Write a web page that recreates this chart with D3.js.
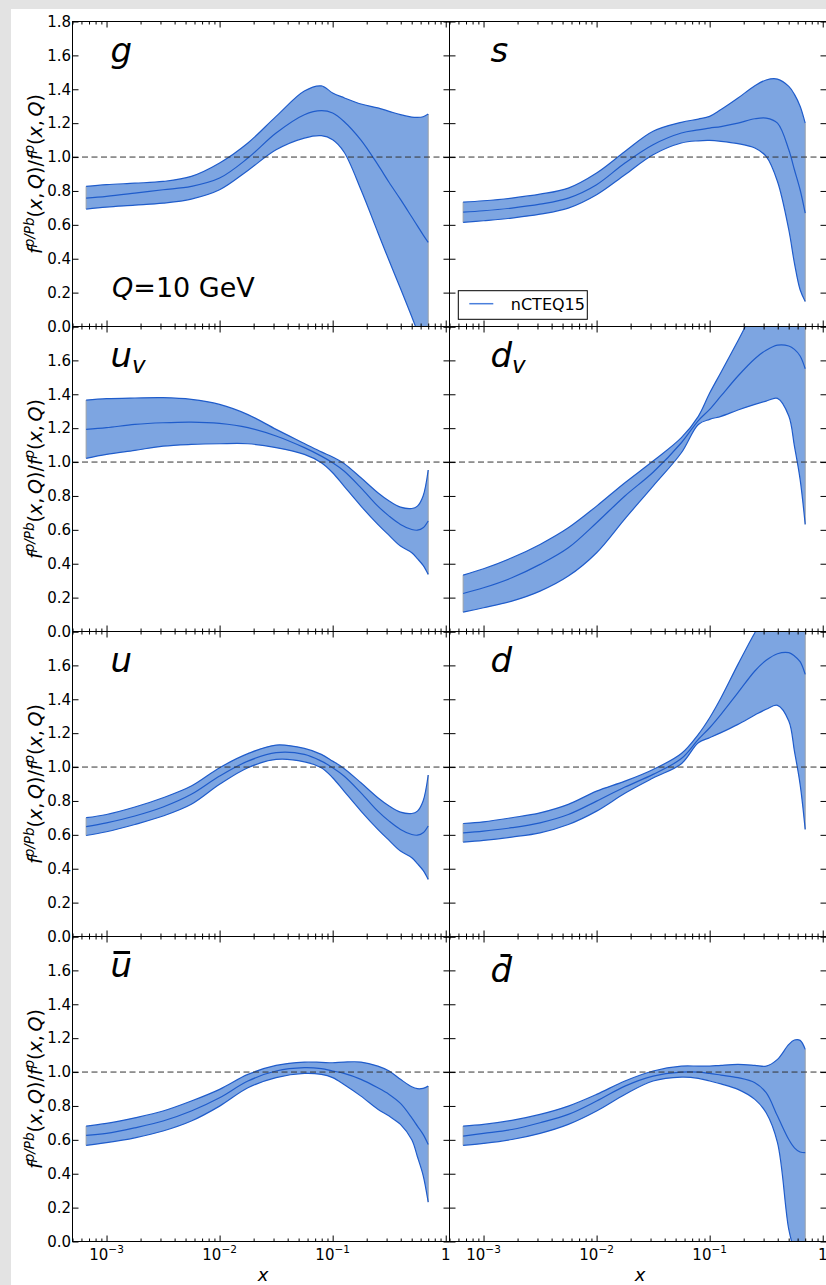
<!DOCTYPE html>
<html>
<head>
<meta charset="utf-8">
<script src="https://cdn.jsdelivr.net/npm/d3@7"></script>
<style>
  body { margin: 0; background: #e3e3e3; }
  svg { display: block; }
  text { font-family: "DejaVu Sans", sans-serif; }
</style>
</head>
<body>
<svg id="chart" width="826" height="1285"></svg>
<script>
const xGrid = [6.6e-4, 1e-3, 1.78e-3, 3.16e-3, 5.62e-3, 1e-2, 1.78e-2, 3.16e-2, 5.62e-2, 7.94e-2,
               0.1, 0.126, 0.178, 0.251, 0.316, 0.398, 0.501, 0.562, 0.631, 0.70];

// g
const gHi  = [0.827, 0.837, 0.846, 0.856, 0.886, 0.965, 1.083, 1.24, 1.39, 1.42, 1.378, 1.35, 1.313, 1.29, 1.27, 1.25, 1.236, 1.234, 1.238, 1.254];
const gMid = [0.758, 0.768, 0.787, 0.807, 0.827, 0.876, 0.994, 1.142, 1.25, 1.274, 1.26, 1.21, 1.10, 0.955, 0.85, 0.75, 0.646, 0.594, 0.541, 0.496];
const gLo  = [0.693, 0.705, 0.716, 0.728, 0.752, 0.807, 0.921, 1.043, 1.112, 1.126, 1.102, 1.03, 0.807, 0.555, 0.388, 0.224, 0.057, -0.03, -0.12, -0.18];
// s
const sHi  = [0.734, 0.742, 0.758, 0.781, 0.817, 0.906, 1.033, 1.152, 1.205, 1.224, 1.24, 1.28, 1.348, 1.421, 1.455, 1.46, 1.417, 1.37, 1.30, 1.20];
const sMid = [0.675, 0.683, 0.699, 0.722, 0.758, 0.837, 0.965, 1.073, 1.142, 1.16, 1.171, 1.18, 1.20, 1.226, 1.23, 1.20, 1.043, 0.925, 0.807, 0.669];
const sLo  = [0.614, 0.624, 0.640, 0.663, 0.699, 0.778, 0.896, 1.014, 1.083, 1.096, 1.098, 1.093, 1.079, 1.053, 1.004, 0.856, 0.571, 0.374, 0.217, 0.148];
// u_v
const uvHi  = [1.366, 1.374, 1.378, 1.38, 1.37, 1.34, 1.28, 1.193, 1.11, 1.06, 1.03, 0.992, 0.907, 0.819, 0.77, 0.734, 0.726, 0.74, 0.80, 0.953];
const uvMid = [1.193, 1.203, 1.222, 1.232, 1.236, 1.228, 1.203, 1.154, 1.085, 1.035, 0.996, 0.947, 0.848, 0.74, 0.681, 0.632, 0.602, 0.598, 0.612, 0.652];
const uvLo  = [1.022, 1.045, 1.069, 1.094, 1.104, 1.108, 1.108, 1.085, 1.045, 0.996, 0.937, 0.858, 0.74, 0.632, 0.567, 0.504, 0.465, 0.43, 0.39, 0.337];
// d_v
const dvHi  = [0.333, 0.37, 0.435, 0.514, 0.612, 0.74, 0.878, 1.006, 1.144, 1.27, 1.407, 1.53, 1.716, 1.9, 1.98, 2.05, 2.1, 2.1, 2.1, 2.1];
const dvMid = [0.224, 0.258, 0.317, 0.396, 0.494, 0.642, 0.80, 0.94, 1.114, 1.245, 1.311, 1.39, 1.508, 1.61, 1.66, 1.69, 1.685, 1.665, 1.626, 1.551];
const dvLo  = [0.114, 0.14, 0.179, 0.238, 0.327, 0.465, 0.665, 0.858, 1.055, 1.222, 1.252, 1.27, 1.307, 1.34, 1.36, 1.376, 1.272, 1.094, 0.898, 0.632];
// u
const uHi  = [0.701, 0.72, 0.764, 0.819, 0.888, 0.996, 1.079, 1.13, 1.11, 1.075, 1.035, 0.992, 0.907, 0.819, 0.77, 0.734, 0.726, 0.74, 0.80, 0.953];
const uMid = [0.648, 0.671, 0.711, 0.764, 0.839, 0.947, 1.035, 1.085, 1.075, 1.035, 0.996, 0.947, 0.848, 0.74, 0.681, 0.632, 0.602, 0.598, 0.612, 0.652];
const uLo  = [0.596, 0.618, 0.661, 0.711, 0.78, 0.898, 0.996, 1.045, 1.031, 0.996, 0.937, 0.858, 0.74, 0.632, 0.567, 0.504, 0.465, 0.43, 0.39, 0.337];
// d
const dHi  = [0.667, 0.677, 0.701, 0.73, 0.78, 0.858, 0.917, 0.986, 1.08, 1.193, 1.291, 1.409, 1.606, 1.793, 1.9, 1.97, 2.0, 2.0, 2.0, 2.0];
const dMid = [0.612, 0.622, 0.642, 0.671, 0.72, 0.799, 0.882, 0.957, 1.05, 1.163, 1.232, 1.311, 1.439, 1.567, 1.63, 1.669, 1.675, 1.656, 1.622, 1.547];
const dLo  = [0.557, 0.567, 0.587, 0.612, 0.661, 0.74, 0.845, 0.935, 1.02, 1.144, 1.173, 1.203, 1.252, 1.307, 1.341, 1.364, 1.272, 1.094, 0.898, 0.632];
// u bar
const ubHi  = [0.681, 0.697, 0.73, 0.77, 0.829, 0.898, 0.986, 1.039, 1.059, 1.057, 1.055, 1.059, 1.059, 1.035, 1.006, 0.957, 0.913, 0.902, 0.904, 0.917];
const ubMid = [0.626, 0.638, 0.671, 0.711, 0.77, 0.848, 0.947, 1.006, 1.026, 1.02, 1.006, 0.992, 0.957, 0.907, 0.868, 0.815, 0.73, 0.681, 0.632, 0.573];
const ubLo  = [0.567, 0.583, 0.612, 0.652, 0.711, 0.799, 0.907, 0.967, 0.992, 0.986, 0.967, 0.927, 0.858, 0.78, 0.74, 0.691, 0.60, 0.50, 0.39, 0.232];
// d bar
const dbHi  = [0.681, 0.691, 0.715, 0.75, 0.799, 0.868, 0.947, 1.006, 1.035, 1.035, 1.035, 1.04, 1.045, 1.04, 1.035, 1.075, 1.163, 1.189, 1.187, 1.134];
const dbMid = [0.622, 0.638, 0.661, 0.701, 0.75, 0.829, 0.917, 0.976, 1.0, 1.0, 0.992, 0.982, 0.967, 0.937, 0.878, 0.74, 0.602, 0.553, 0.528, 0.524];
const dbLo  = [0.567, 0.579, 0.602, 0.638, 0.691, 0.77, 0.868, 0.947, 0.97, 0.963, 0.947, 0.93, 0.898, 0.839, 0.76, 0.583, 0.071, -0.05, -0.1, -0.1];

const yTicks = [0, 0.2, 0.4, 0.6, 0.8, 1.0, 1.2, 1.4, 1.6, 1.8];
const xMajor = [1e-3, 1e-2, 1e-1, 1];
const legendLabel = "nCTEQ15";
const scaleLabel = "10 GeV";

const panels = [
  { name: "g",  sub: null, bar: false, hi: gHi,  mid: gMid,  lo: gLo,  col: 0, row: 0 },
  { name: "s",  sub: null, bar: false, hi: sHi,  mid: sMid,  lo: sLo,  col: 1, row: 0 },
  { name: "u",  sub: "v",  bar: false, hi: uvHi, mid: uvMid, lo: uvLo, col: 0, row: 1 },
  { name: "d",  sub: "v",  bar: false, hi: dvHi, mid: dvMid, lo: dvLo, col: 1, row: 1 },
  { name: "u",  sub: null, bar: false, hi: uHi,  mid: uMid,  lo: uLo,  col: 0, row: 2 },
  { name: "d",  sub: null, bar: false, hi: dHi,  mid: dMid,  lo: dLo,  col: 1, row: 2 },
  { name: "u",  sub: null, bar: true,  hi: ubHi, mid: ubMid, lo: ubLo, col: 0, row: 3 },
  { name: "d",  sub: null, bar: true,  hi: dbHi, mid: dbMid, lo: dbLo, col: 1, row: 3 }
];

const marginLeft = 72.5, marginTop = 21.5, pw = 377, ph = 305;
const fillColor = "#7da5e1", lineColor = "#1f5ccb";

const svg = d3.select("#chart");
svg.append("rect").attr("x", 11).attr("y", 9).attr("width", 815).attr("height", 1276).attr("fill", "#fff");

const x = d3.scaleLog().domain([5e-4, 1.08]).range([0, pw]);
const y = d3.scaleLinear().domain([0, 1.8]).range([ph, 0]);
const xMinor = x.ticks().filter(v => !xMajor.some(m => Math.abs(v - m) < m * 1e-6));

const curve = d3.curveCatmullRom.alpha(0.5);
const area = d3.area().x((d, i) => x(xGrid[i])).y0(d => y(d[0])).y1(d => y(d[1])).curve(curve);
const line = d3.line().x((d, i) => x(xGrid[i])).y(d => y(d)).curve(curve);

panels.forEach((p, k) => {
  const g = svg.append("g").attr("transform", `translate(${marginLeft + p.col * pw},${marginTop + p.row * ph})`);
  const clipId = "clip" + k;
  g.append("clipPath").attr("id", clipId).append("rect").attr("width", pw).attr("height", ph);
  const plot = g.append("g").attr("clip-path", `url(#${clipId})`);

  plot.append("path")
    .attr("d", area(p.lo.map((v, i) => [v, p.hi[i]])))
    .attr("fill", fillColor);

  // grey band ends
  [0, xGrid.length - 1].forEach(i => {
    plot.append("line")
      .attr("x1", x(xGrid[i])).attr("x2", x(xGrid[i]))
      .attr("y1", y(p.lo[i])).attr("y2", y(p.hi[i]))
      .attr("stroke", "#9aa0aa").attr("stroke-width", 1);
  });

  [p.lo, p.mid, p.hi].forEach(s => {
    plot.append("path").attr("d", line(s))
      .attr("fill", "none").attr("stroke", lineColor).attr("stroke-width", 1.2);
  });

  g.append("line").attr("x1", 0).attr("x2", pw).attr("y1", y(1)).attr("y2", y(1))
    .attr("stroke", "#333").attr("stroke-width", 1).attr("stroke-dasharray", "6,3.5");

  // ticks pointing inward on all four sides
  const axes = [
    [d3.axisBottom(x).tickValues(xMajor).tickSize(-6), `translate(0,${ph})`],
    [d3.axisBottom(x).tickValues(xMinor).tickSize(-3), `translate(0,${ph})`],
    [d3.axisTop(x).tickValues(xMajor).tickSize(-6), null],
    [d3.axisTop(x).tickValues(xMinor).tickSize(-3), null],
    [d3.axisRight(y).tickValues(yTicks).tickSize(-6), `translate(${pw},0)`]
  ];
  axes.forEach(([ax, tr]) => {
    const a = g.append("g").call(ax.tickFormat(""));
    if (tr) a.attr("transform", tr);
    a.select(".domain").remove();
  });

  const yAx = g.append("g").call(
    d3.axisLeft(y).tickValues(yTicks).tickSize(-6).tickPadding(1.5)
      .tickFormat(v => (p.col === 0 && (p.row === 0 || v < 1.7)) ? d3.format(".1f")(v) : "")
  );
  yAx.select(".domain").remove();
  yAx.selectAll("text").attr("font-size", 15).attr("font-family", "DejaVu Sans").attr("fill", "#000");

  g.append("rect").attr("width", pw).attr("height", ph)
    .attr("fill", "none").attr("stroke", "#000").attr("stroke-width", 1);

  // panel label
  const lx = p.col === 0 ? 38 : 41;
  const ly = p.bar && p.col === 1 ? 45 : 40;
  const lab = g.append("text").attr("x", lx).attr("y", ly)
    .attr("font-size", 34).attr("font-style", "italic").attr("fill", "#000");
  lab.append("tspan").text(p.name);
  if (p.sub) lab.append("tspan").attr("font-size", 23).attr("dy", 6).text(p.sub);
  if (p.bar) {
    const bb = lab.node().getBBox();
    const by = p.name === "u" ? ly - 24 : ly - 26;
    const bx0 = p.name === "u" ? bb.x + 3 : bb.x + 10;
    g.append("line").attr("x1", bx0).attr("x2", bb.x + bb.width - 2)
      .attr("y1", by).attr("y2", by).attr("stroke", "#000").attr("stroke-width", 3);
  }

  // x tick labels on the bottom row
  if (p.row === 3) {
    xMajor.forEach(v => {
      const t = g.append("text").attr("x", x(v)).attr("y", ph + 18.5)
        .attr("text-anchor", "middle").attr("font-size", 15).attr("fill", "#000");
      const e = Math.round(Math.log10(v));
      if (e === 0) { t.text("1"); return; }
      t.append("tspan").text("10");
      t.append("tspan").attr("font-size", 10.5).attr("dy", -7).text("\u2212" + Math.abs(e));
    });
    g.append("text").attr("x", pw / 2 + 2).attr("y", ph + 39)
      .attr("text-anchor", "middle").attr("font-size", 18).attr("font-style", "italic").text("x");
  }

  // y axis title on the left column
  if (p.col === 0) {
    const t = g.append("text")
      .attr("transform", `translate(${42 - marginLeft},${ph / 2}) rotate(-90)`)
      .attr("text-anchor", "middle").attr("font-size", 19).attr("fill", "#000");
    const parts = [
      ["f", true, 0], ["p/Pb", true, -1], ["(", false, 1], ["x", true, 0], [",\u2009", false, 0],
      ["Q", true, 0], [")/", false, 0], ["f", true, 0], ["p", true, -1], ["(", false, 1],
      ["x", true, 0], [",\u2009", false, 0], ["Q", true, 0], [")", false, 0]
    ];
    parts.forEach(([s, it, sh]) => {
      const ts = t.append("tspan").text(s);
      if (it) ts.attr("font-style", "italic");
      if (sh === -1) ts.attr("font-size", 13.5).attr("dy", -8);
      if (sh === 1) ts.attr("dy", 8);
    });
  }

  if (p.row === 0 && p.col === 0) {
    const q = g.append("text").attr("x", 39.5).attr("y", 275.5).attr("font-size", 27).attr("fill", "#000");
    q.append("tspan").attr("font-style", "italic").text("Q");
    q.append("tspan").text("=" + scaleLabel);
  }

  if (p.row === 0 && p.col === 1) {
    const lg = g.append("g").attr("transform", "translate(8.8,269.2)");
    lg.append("rect").attr("width", 129).attr("height", 28.6).attr("fill", "#fff")
      .attr("stroke", "#000").attr("stroke-width", 1);
    lg.append("line").attr("x1", 11).attr("x2", 35).attr("y1", 13).attr("y2", 13)
      .attr("stroke", "#4a7fdc").attr("stroke-width", 1.5);
    lg.append("text").attr("x", 52.5).attr("y", 19).attr("font-size", 16).attr("fill", "#000").text(legendLabel);
  }
});
</script>
</body>
</html>
